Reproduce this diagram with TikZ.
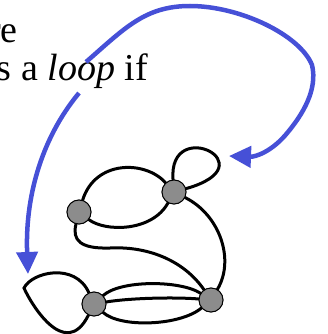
\documentclass[tikz,border=0pt]{standalone}
\usepackage{fontspec}
\setmainfont{Liberation Serif}
\usetikzlibrary{arrows.meta}
\definecolor{arrowblue}{RGB}{70,80,215}
\definecolor{nodegray}{RGB}{140,140,140}
\begin{document}
\begin{tikzpicture}[x=1pt,y=-1pt,
  vert/.style={circle,draw=black,line width=0.9pt,fill=nodegray,minimum size=24pt,inner sep=0pt},
  edge/.style={line width=3pt,line cap=round},
  pointer/.style={draw=arrowblue,line width=4.5pt,-{Triangle[length=22pt,width=21pt]}},
  txt/.style={font=\fontsize{38}{40}\selectfont,inner sep=0pt}]
\useasboundingbox (0,0) rectangle (327,334);
\clip (0,0) rectangle (327,334);
% text
\node[txt,anchor=base east] (t1) at (18,43) {re};
\node[txt,anchor=base east] (t2) at (148,81) {s a \textit{loop} if};
% blue arrows
\coordinate (s1) at (86,62);
\coordinate (e1) at (229,156);
\coordinate (s2) at (79,93);
\coordinate (e2) at (28,274);
\draw[pointer] (s1) .. controls (125,28) and (145,6) .. (190,6)
  .. controls (240,6) and (300,35) .. (312,65)
  .. controls (318,90) and (302,115) .. (288,132)
  .. controls (272,152) and (255,157) .. (e1);
\draw[pointer] (s2) .. controls (40,140) and (25,200) .. (e2);
% vertices
\node[vert] (A) at (79,212) {};
\node[vert] (B) at (174,192) {};
\node[vert] (C) at (94,304) {};
\node[vert] (D) at (211,300) {};
% edges
\draw[edge] (A) .. controls (95,160) and (145,160) .. (B);
\draw[edge] (A) .. controls (105,232) and (152,232) .. (B);
\draw[edge] (B) .. controls (168,115) and (270,165) .. (B);
\draw[edge] (B) .. controls (220,215) and (235,260) .. (D);
\draw[edge] (A) .. controls (72,240) and (80,249) .. (110,248)
  .. controls (150,246) and (185,262) .. (D);
\draw[edge] (C) .. controls (120,280) and (180,280) .. (D);
\draw[edge] (C) .. controls (130,298) and (175,297) .. (D);
\draw[edge] (C) .. controls (120,328) and (180,326) .. (D);
\draw[edge] (C) .. controls (75,262) and (32,272) .. (24,288)
  .. controls (30,302) and (65,362) .. (C);
% vertices on top of their edges
\foreach \n in {A,B,C,D}{\node[vert] at (\n) {};}
\end{tikzpicture}
\end{document}
